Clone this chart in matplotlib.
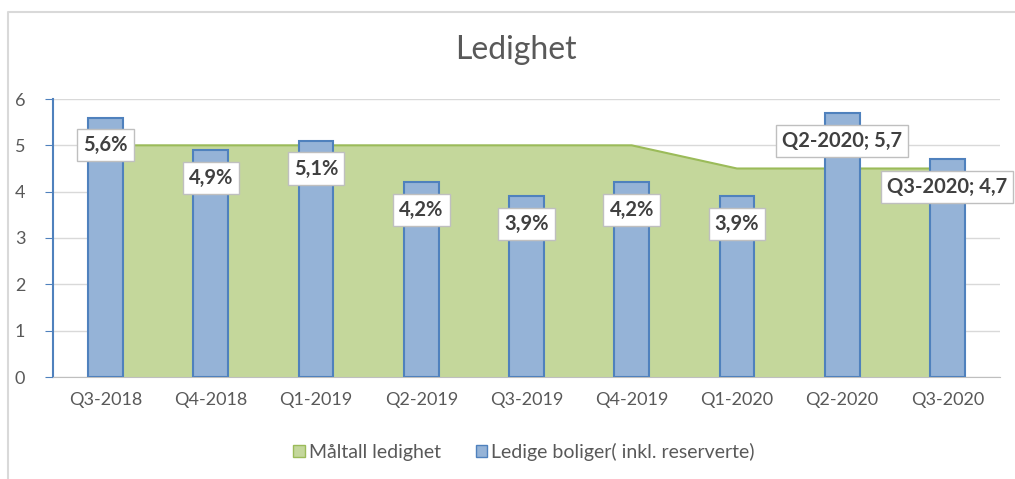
import numpy as np
import matplotlib.pyplot as plt
from matplotlib.lines import Line2D
from matplotlib.patches import Patch

plt.rcParams['font.family'] = ['Lato', 'DejaVu Sans']

quarters = ['Q3-2018', 'Q4-2018', 'Q1-2019', 'Q2-2019', 'Q3-2019',
            'Q4-2019', 'Q1-2020', 'Q2-2020', 'Q3-2020']
target = [5, 5, 5, 5, 5, 5, 4.5, 4.5, 4.5]
vacant = [5.6, 4.9, 5.1, 4.2, 3.9, 4.2, 3.9, 5.7, 4.7]
bar_labels = ['5,6%', '4,9%', '5,1%', '4,2%', '3,9%', '4,2%', '3,9%',
              'Q2-2020; 5,7', 'Q3-2020; 4,7']

grey = '#595959'
fig = plt.figure(figsize=(10.15, 4.79), dpi=100)
# chart frame: only top and left edges are visible in the crop
fig.lines.append(Line2D([8 / 1015, 8 / 1015, 1], [0, 1 - 12 / 479, 1 - 12 / 479],
                        transform=fig.transFigure, color='#d9d9d9', lw=1.5))
ax = fig.add_axes([53 / 1015, 102 / 479, 947 / 1015, 278 / 479])

x = np.arange(len(quarters))
ax.fill_between(x, target, color='#c4d79b', zorder=1)
ax.plot(x, target, color='#9bbb59', lw=1.5, zorder=2)
ax.bar(x, vacant, width=0.33, color='#95b3d7', edgecolor='#4f81bd',
       lw=1.5, zorder=3)

for xi, v, t in zip(x, vacant, bar_labels):
    ax.annotate(t, (xi, v), xytext=(0, -20), textcoords='offset points',
                ha='center', va='center', fontsize=14.5, fontweight='bold',
                color='#404040', zorder=5,
                bbox=dict(boxstyle='square,pad=0.3', fc='white',
                          ec='#bfbfbf', lw=1))

ax.set_xlim(-0.5, len(quarters) - 0.5)
ax.set_ylim(0, 6)
ax.set_yticks(range(7))
ax.set_xticks(x)
ax.set_xticklabels(quarters)
ax.yaxis.grid(True, color='#d9d9d9', lw=1)
ax.set_axisbelow(True)
ax.tick_params(axis='x', length=0, pad=11, labelsize=13, labelcolor=grey)
ax.tick_params(axis='y', length=6, color='#4f81bd', pad=14, labelsize=13,
               labelcolor=grey)
for s in ['top', 'right']:
    ax.spines[s].set_visible(False)
ax.spines['left'].set_color('#4f81bd')
ax.spines['left'].set_linewidth(1.5)
ax.spines['bottom'].set_color('#bfbfbf')

fig.text(516 / 1015, 1 - 50 / 479, 'Ledighet', ha='center', va='center',
         fontsize=23, color=grey)

handles = [Patch(facecolor='#c4d79b', edgecolor='#9bbb59', label='Måltall ledighet'),
           Patch(facecolor='#95b3d7', edgecolor='#4f81bd',
                 label='Ledige boliger( inkl. reserverte)')]
fig.legend(handles=handles, loc='center', bbox_to_anchor=(524 / 1015, 1 - 452 / 479),
           ncol=2, frameon=False, fontsize=14, labelcolor=grey,
           handlelength=0.6, handleheight=0.6, handletextpad=0.2, columnspacing=1.8)

fig.savefig('out.png', dpi=100)
